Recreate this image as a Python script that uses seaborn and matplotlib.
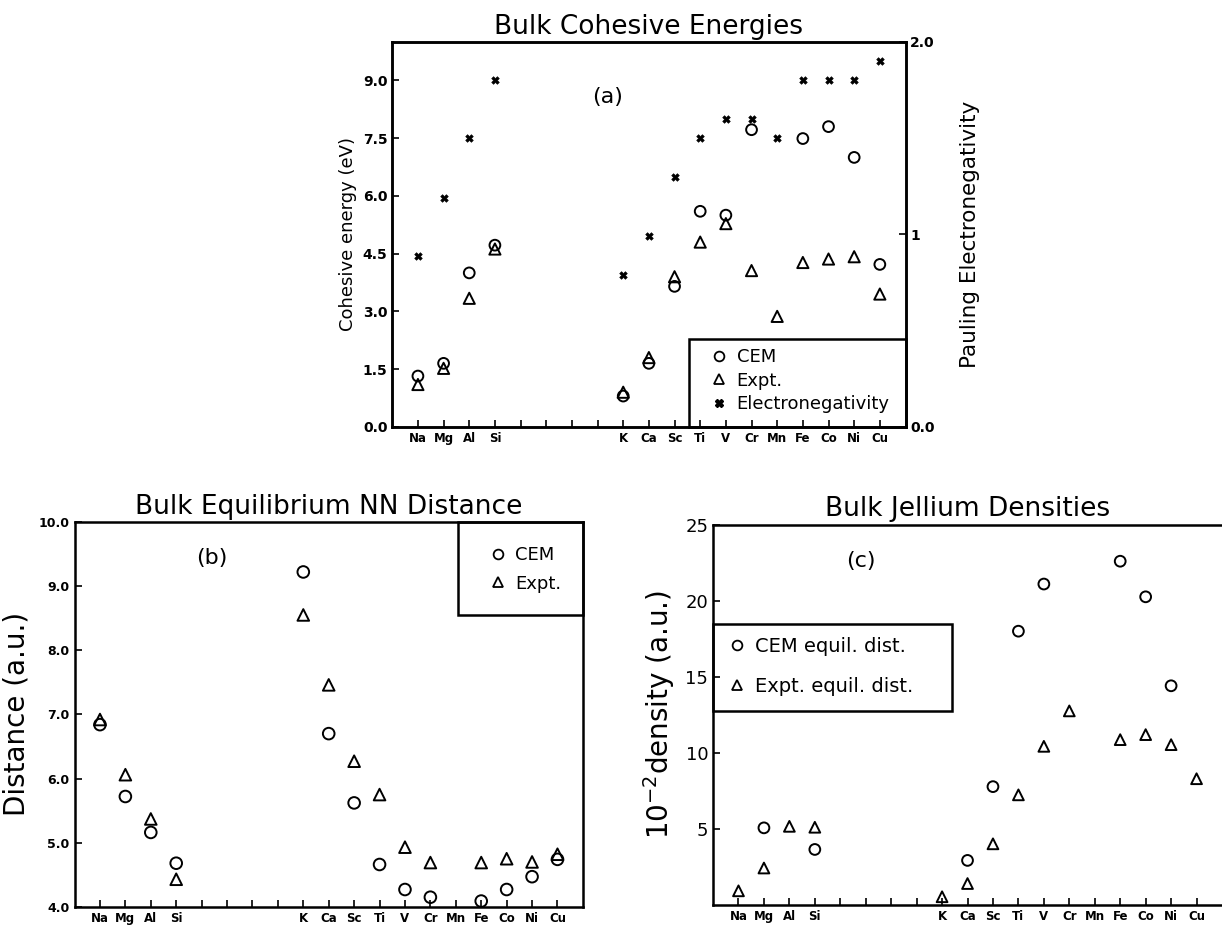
import numpy as np
import pandas as pd
import matplotlib
matplotlib.use("Agg")
import matplotlib.pyplot as plt
from matplotlib.lines import Line2D
from matplotlib.patches import Rectangle
import seaborn as sns

nan = np.nan

elements = ["Na", "Mg", "Al", "Si", "K", "Ca", "Sc", "Ti", "V", "Cr", "Mn", "Fe", "Co", "Ni", "Cu"]
atomic_num = [11, 12, 13, 14, 19, 20, 21, 22, 23, 24, 25, 26, 27, 28, 29]

# (a) cohesive energy (eV) and Pauling electronegativity
coh_cem = [1.32, 1.65, 4.0, 4.72, 0.8, 1.65, 3.65, 5.6, 5.5, 7.72, nan, 7.49, 7.8, 7.0, 4.22]
coh_expt = [1.1, 1.52, 3.34, 4.62, 0.9, 1.8, 3.9, 4.8, 5.28, 4.06, 2.87, 4.27, 4.36, 4.42, 3.45]
electroneg = [0.89, 1.19, 1.5, 1.8, 0.79, 0.99, 1.3, 1.5, 1.6, 1.6, 1.5, 1.8, 1.8, 1.8, 1.9]

# (b) equilibrium NN distance (a.u.)
dist_cem = [6.84, 5.72, 5.16, 4.68, 9.22, 6.70, 5.62, 4.66, 4.27, 4.15, nan, 4.09, 4.27, 4.47, 4.74]
dist_expt = [6.92, 6.06, 5.37, 4.43, 8.55, 7.46, 6.27, 5.75, 4.93, 4.69, nan, 4.69, 4.75, 4.70, 4.82]

# (c) jellium density (10^-2 a.u.)
dens_cem = [nan, 5.07, nan, 3.65, nan, 2.93, 7.78, 18.0, 21.1, nan, nan, 22.6, 20.26, 14.41, nan]
dens_expt = [0.93, 2.43, 5.17, 5.11, 0.54, 1.41, 4.02, 7.24, 10.43, 12.76, nan, 10.87, 11.2, 10.54, 8.3]

df = pd.DataFrame({
    "element": elements,
    "z": atomic_num,
    "coh_cem": coh_cem,
    "coh_expt": coh_expt,
    "eneg": electroneg,
    "dist_cem": dist_cem,
    "dist_expt": dist_expt,
    "dens_cem": dens_cem,
    "dens_expt": dens_expt,
})

sns.set_style("ticks")
plt.rcParams["font.family"] = ["DejaVu Sans"]
plt.rcParams["axes.linewidth"] = 1.8
for key in ["text.color", "axes.labelcolor", "axes.edgecolor", "xtick.color", "ytick.color"]:
    plt.rcParams[key] = "black"

fig = plt.figure(figsize=(12.22, 9.32), dpi=100)

ax_a = fig.add_axes([0.321, 0.542, 0.420, 0.413])
ax_b = fig.add_axes([0.061, 0.027, 0.416, 0.413])
ax_c = fig.add_axes([0.5835, 0.029, 0.4165, 0.408])

open_kw = dict(facecolor="none", edgecolor="black", linewidth=1.4, legend=False)

# x ticks: every atomic number, labels only for the plotted elements
xticks = list(range(11, 30))
xlabels = [elements[atomic_num.index(t)] if t in atomic_num else "" for t in xticks]


def style_x(ax):
    ax.set_xlim(10, 30)
    ax.set_xticks(xticks)
    ax.set_xticklabels(xlabels, fontsize=8.5, fontweight="bold")
    ax.tick_params(axis="both", direction="in", length=5, width=1.2)
    ax.set_xlabel("")


def handle(marker, ms=7):
    return Line2D([], [], marker=marker, ls="", mfc="none", mec="black", mew=1.3, ms=ms)


# ============================================
# (a) Bulk Cohesive Energies
# ============================================

sns.scatterplot(data=df, x="z", y="coh_cem", marker="o", s=60, ax=ax_a, **open_kw)
sns.scatterplot(data=df, x="z", y="coh_expt", marker="^", s=65, ax=ax_a, **open_kw)

ax_a2 = ax_a.twinx()
sns.scatterplot(data=df, x="z", y="eneg", marker="X", s=30, color="black",
                edgecolor="black", legend=False, ax=ax_a2)

style_x(ax_a)
ax_a.set_ylim(0, 10)
ax_a.set_yticks([0, 1.5, 3.0, 4.5, 6.0, 7.5, 9.0])
ax_a.set_yticklabels(["0.0", "1.5", "3.0", "4.5", "6.0", "7.5", "9.0"],
                     fontsize=10, fontweight="bold")
ax_a.set_ylabel("Cohesive energy (eV)", fontsize=13, labelpad=4)

ax_a2.set_ylim(0, 2)
ax_a2.set_yticks([0, 1, 2])
ax_a2.set_yticklabels(["0.0", "1", "2.0"], fontsize=10, fontweight="bold")
ax_a2.tick_params(axis="y", direction="in", length=5, width=1.2)
ax_a2.set_ylabel("Pauling Electronegativity", fontsize=15.5, labelpad=18)
ax_a2.set_xlabel("")

ax_a.set_title("Bulk Cohesive Energies", fontsize=19)
ax_a.text(18.4, 8.56, "(a)", fontsize=16, ha="center", va="center")

ax_a.add_patch(Rectangle((0.579, 0), 0.421, 0.228, transform=ax_a.transAxes,
                         fill=False, lw=1.8, ec="black", clip_on=False, zorder=5))
ax_a.legend(handles=[handle("o"), handle("^"),
                     Line2D([], [], marker="X", ls="", color="black", ms=5.5)],
            labels=["CEM", "Expt.", "Electronegativity"],
            loc="center left", bbox_to_anchor=(0.62, 0.12), frameon=False,
            fontsize=13, handlelength=1.0, handletextpad=0.45,
            labelspacing=0.3, borderpad=0, borderaxespad=0)

# ============================================
# (b) Bulk Equilibrium NN Distance
# ============================================

sns.scatterplot(data=df, x="z", y="dist_cem", marker="o", s=70, ax=ax_b, **open_kw)
sns.scatterplot(data=df, x="z", y="dist_expt", marker="^", s=70, ax=ax_b, **open_kw)

style_x(ax_b)
ax_b.set_ylim(4, 10)
ax_b.set_yticks([4, 5, 6, 7, 8, 9, 10])
ax_b.set_yticklabels(["4.0", "5.0", "6.0", "7.0", "8.0", "9.0", "10.0"],
                     fontsize=9, fontweight="bold")
ax_b.set_ylabel("Distance (a.u.)", fontsize=20, labelpad=6)
ax_b.set_title("Bulk Equilibrium NN Distance", fontsize=19)
ax_b.text(15.4, 9.44, "(b)", fontsize=16, ha="center", va="center")

ax_b.add_patch(Rectangle((0.754, 0.757), 0.246, 0.243, transform=ax_b.transAxes,
                         fill=False, lw=1.8, ec="black", clip_on=False, zorder=5))
ax_b.legend(handles=[handle("o"), handle("^")], labels=["CEM", "Expt."],
            loc="center left", bbox_to_anchor=(0.815, 0.877), frameon=False,
            fontsize=13, handlelength=1.0, handletextpad=0.45,
            labelspacing=0.6, borderpad=0, borderaxespad=0)

# ============================================
# (c) Bulk Jellium Densities
# ============================================

sns.scatterplot(data=df, x="z", y="dens_cem", marker="o", s=60, ax=ax_c, **open_kw)
sns.scatterplot(data=df, x="z", y="dens_expt", marker="^", s=60, ax=ax_c, **open_kw)

style_x(ax_c)
ax_c.set_ylim(0, 25)
ax_c.set_yticks([5, 10, 15, 20, 25])
ax_c.set_yticklabels(["5", "10", "15", "20", "25"], fontsize=13)
ax_c.spines["right"].set_visible(False)
ax_c.set_ylabel("10$^{-2}$density (a.u.)", fontsize=20, labelpad=6)
ax_c.set_title("Bulk Jellium Densities", fontsize=19)
ax_c.text(15.8, 22.6, "(c)", fontsize=16, ha="center", va="center")

ax_c.add_patch(Rectangle((0, 0.51), 0.47, 0.23, transform=ax_c.transAxes,
                         fill=False, lw=1.8, ec="black", clip_on=False, zorder=5))
ax_c.legend(handles=[handle("o"), handle("^")],
            labels=["CEM equil. dist.", "Expt. equil. dist."],
            loc="center left", bbox_to_anchor=(0.027, 0.627), frameon=False,
            fontsize=14, handlelength=1.0, handletextpad=0.45,
            labelspacing=1.1, borderpad=0, borderaxespad=0)

fig.savefig("out.png", dpi=100)
